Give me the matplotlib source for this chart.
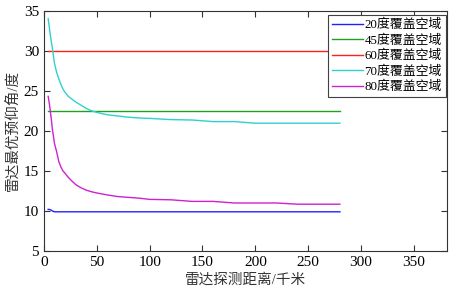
import matplotlib
matplotlib.use("Agg")
import matplotlib.pyplot as plt

# 雷达最优预仰角 vs 探测距离
plt.rcParams['font.family'] = ['Liberation Serif', 'Noto Sans CJK SC']

dist = [4, 5, 6, 7, 8, 10, 12, 14, 16, 18, 20, 23, 26, 30, 35, 40, 45, 50,
        60, 70, 80, 90, 100, 120, 140, 160, 180, 200, 220, 240, 260, 280]

angle_20 = [10.2, 10.2, 10.15, 10.1, 10.0, 9.9, 9.9, 9.9, 9.9, 9.9, 9.9, 9.9,
            9.9, 9.9, 9.9, 9.9, 9.9, 9.9, 9.9, 9.9, 9.9, 9.9, 9.9, 9.9,
            9.9, 9.9, 9.9, 9.9, 9.9, 9.9, 9.9, 9.9]
angle_45 = [22.5] * len(dist)
angle_70 = [34.0, 33.0, 32.0, 31.1, 30.3, 28.4, 27.3, 26.5, 25.8, 25.2, 24.8,
            24.3, 24.0, 23.6, 23.2, 22.8, 22.5, 22.3, 22.0, 21.85, 21.7, 21.6,
            21.55, 21.4, 21.35, 21.15, 21.15, 20.95, 20.95, 20.95, 20.95, 20.95]
angle_80 = [24.3, 23.5, 22.5, 21.4, 20.2, 18.4, 17.4, 16.2, 15.5, 15.0, 14.7,
            14.2, 13.8, 13.3, 12.9, 12.6, 12.4, 12.25, 12.0, 11.8, 11.7, 11.6,
            11.45, 11.4, 11.2, 11.2, 11.0, 11.0, 11.0, 10.85, 10.85, 10.85]

# the 60 degree line runs on to the right edge
dist_60 = [4, 380]
angle_60 = [29.9, 29.9]

labels = ['20度覆盖空域', '45度覆盖空域', '60度覆盖空域', '70度覆盖空域', '80度覆盖空域']

fig = plt.figure(figsize=(4.53, 2.93), dpi=100)
ax = fig.add_axes([0.097, 0.143, 0.889, 0.821])

ax.plot(dist, angle_20, color='#2020ff', lw=1.0, label=labels[0])
ax.plot(dist, angle_45, color='#20a020', lw=1.0, label=labels[1])
ax.plot(dist_60, angle_60, color='#ff2020', lw=1.0, label=labels[2])
ax.plot(dist, angle_70, color='#30d0d0', lw=1.0, label=labels[3])
ax.plot(dist, angle_80, color='#d020d0', lw=1.0, label=labels[4])

ax.set_xlim(0, 381)
ax.set_ylim(5, 35)
ax.set_xticks(range(0, 351, 50))
ax.set_yticks(range(5, 36, 5))
ax.tick_params(direction='in', top=True, right=True, length=4, width=0.8,
               labelsize=11, color='#333333')
for s in ax.spines.values():
    s.set_color('#333333')
    s.set_linewidth(0.8)

ax.set_xlabel('雷达探测距离/千米', fontsize=10.5, color='#333333', labelpad=3)
ax.set_ylabel('雷达最优预仰角/度', fontsize=10.5, color='#333333', labelpad=3)

leg = ax.legend(loc='upper right', bbox_to_anchor=(0.984, 0.949),
                bbox_transform=fig.transFigure, fontsize=9.3, fancybox=False,
                framealpha=1, edgecolor='#404040', borderpad=0.3,
                labelspacing=0.25, handlelength=2.4, handletextpad=0.1,
                borderaxespad=0)
leg.get_frame().set_linewidth(0.8)

fig.savefig('out.png', dpi=100)
